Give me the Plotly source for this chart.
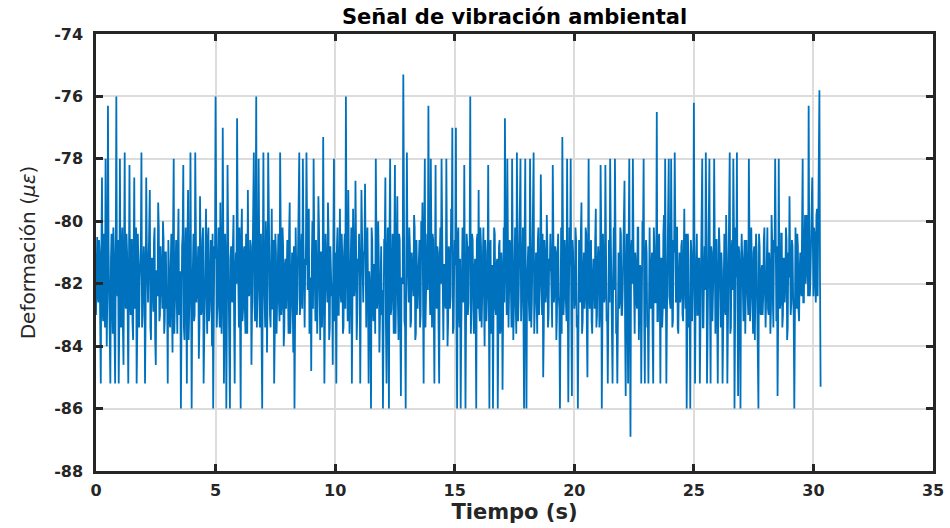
import plotly.graph_objects as go

# Sampling: 40 samples per second, 0 .. 30.3 s
sample_rate = 40.0

# Strain values (microstrain).
# "a" rows: even samples (carry the visible spikes), one row per second.
a00 = [-83.0, -80.5, -82.6, -81.0, -85.2, -78.6, -83.2, -80.6, -78.0, -84.0, -76.3, -82.8, -85.2, -80.4, -83.6, -81.0, -85.2, -76.0, -82.4, -85.2]
a01 = [-78.0, -83.4, -80.2, -84.6, -77.8, -82.8, -81.0, -85.2, -78.2, -83.0, -80.6, -83.8, -78.6, -82.2, -85.2, -80.4, -83.4, -81.2, -77.8, -83.0]
a02 = [-80.8, -85.2, -78.6, -82.6, -81.4, -79.0, -83.8, -81.2, -82.9, -80.2, -84.6, -81.6, -79.4, -83.2, -80.8, -82.4, -80.0, -83.6, -81.0, -82.8]
a03 = [-85.2, -81.6, -83.4, -80.4, -84.2, -78.0, -82.8, -80.6, -83.6, -79.6, -82.4, -86.0, -80.8, -78.2, -83.8, -80.2, -85.2, -79.0, -82.6, -77.8]
a04 = [-86.0, -80.4, -83.2, -77.8, -82.6, -80.8, -84.4, -79.2, -83.0, -80.6, -85.2, -81.4, -79.6, -83.6, -80.2, -82.8, -80.6, -84.0, -86.0, -80.8]
a05 = [-76.0, -83.4, -80.6, -82.8, -79.4, -83.6, -77.0, -85.2, -80.4, -86.0, -78.2, -83.0, -86.0, -80.8, -82.6, -79.8, -85.2, -81.0, -76.7, -83.4]
a06 = [-80.2, -86.0, -79.6, -82.8, -80.8, -83.6, -81.2, -79.0, -82.4, -80.6, -84.6, -81.0, -77.8, -83.2, -76.0, -82.0, -78.0, -83.4, -80.4, -86.0]
a07 = [-77.8, -82.6, -80.0, -84.2, -77.8, -81.8, -83.4, -79.6, -82.8, -85.2, -80.4, -83.6, -81.0, -82.6, -77.8, -83.0, -80.2, -84.0, -81.4, -82.8]
a08 = [-80.6, -83.6, -79.4, -82.4, -81.0, -84.2, -86.0, -80.2, -83.0, -79.8, -77.8, -82.6, -80.4, -78.0, -83.4, -81.2, -77.8, -82.2, -79.6, -83.2]
a09 = [-84.8, -80.0, -78.0, -82.8, -80.6, -83.6, -79.2, -82.2, -81.0, -83.4, -77.3, -85.2, -80.4, -82.6, -79.4, -83.8, -80.8, -82.4, -84.6, -78.0]
a10 = [-81.0, -85.2, -80.2, -83.0, -79.6, -82.6, -81.2, -83.4, -80.4, -76.0, -82.8, -79.0, -83.6, -80.8, -85.2, -79.6, -82.4, -78.7, -83.8, -81.2]
a11 = [-80.4, -85.2, -79.0, -82.6, -81.0, -78.8, -83.4, -80.2, -85.2, -82.0, -86.0, -80.6, -83.2, -81.4, -78.0, -82.8, -80.0, -84.2, -81.6, -83.0]
a12 = [-86.0, -80.6, -78.6, -85.2, -80.2, -86.0, -78.0, -82.8, -80.4, -83.6, -78.2, -82.4, -79.2, -83.8, -80.6, -85.6, -82.0, -75.3, -83.2, -86.0]
a13 = [-77.8, -82.6, -80.2, -83.4, -81.0, -82.2, -79.8, -83.8, -80.6, -82.8, -81.2, -83.4, -80.0, -79.4, -85.2, -78.0, -82.6, -80.4, -76.3, -83.0]
a14 = [-78.0, -83.4, -80.6, -85.2, -78.2, -82.8, -81.0, -85.2, -80.2, -78.0, -83.6, -81.4, -82.6, -78.0, -84.0, -80.8, -82.8, -79.6, -77.0, -83.4]
a15 = [-80.6, -77.0, -86.0, -80.2, -83.4, -86.0, -81.0, -82.6, -78.2, -86.0, -80.4, -83.0, -80.8, -76.0, -82.8, -80.6, -83.6, -81.2, -86.0, -80.4]
a16 = [-79.0, -83.2, -80.8, -82.6, -80.2, -84.0, -81.0, -82.6, -78.2, -86.0, -80.6, -83.4, -86.0, -80.2, -82.8, -81.4, -86.0, -80.8, -83.6, -81.0]
a17 = [-85.4, -80.2, -76.7, -82.8, -78.0, -83.4, -80.6, -82.2, -78.0, -83.8, -80.4, -82.6, -77.8, -83.2, -81.0, -78.0, -82.6, -80.2, -86.0, -78.0]
a18 = [-86.0, -80.8, -82.6, -78.0, -83.4, -80.4, -77.8, -82.8, -81.0, -83.6, -80.2, -82.4, -78.5, -83.0, -85.0, -80.6, -82.6, -79.8, -83.4, -81.2]
a19 = [-80.4, -83.2, -78.2, -82.6, -80.8, -83.8, -81.0, -82.4, -86.0, -80.2, -77.3, -83.0, -80.6, -82.6, -78.0, -85.8, -80.2, -78.0, -85.6, -81.0]
a20 = [-82.8, -80.2, -83.4, -86.0, -80.6, -82.6, -79.4, -83.2, -81.0, -82.4, -80.4, -85.0, -78.0, -82.8, -80.6, -83.6, -81.2, -82.8, -79.6, -83.0]
a21 = [-80.8, -83.4, -78.2, -86.0, -80.4, -82.6, -78.2, -83.2, -85.2, -80.6, -78.0, -82.8, -85.2, -80.2, -78.0, -83.6, -85.2, -81.0, -82.6, -80.4]
a22 = [-83.0, -81.2, -78.7, -85.6, -80.4, -85.2, -78.0, -86.9, -80.6, -78.0, -83.2, -81.0, -82.6, -80.2, -83.8, -81.4, -85.2, -80.0, -78.0, -85.2]
a23 = [-80.6, -83.4, -85.2, -80.2, -82.8, -81.0, -85.2, -80.8, -82.6, -76.5, -83.2, -80.4, -85.2, -81.2, -82.8, -79.8, -78.0, -85.2, -80.6, -78.0]
a24 = [-82.8, -78.0, -83.4, -80.6, -77.8, -82.6, -80.2, -83.6, -81.0, -82.4, -80.6, -83.2, -79.6, -82.8, -86.0, -80.4, -83.4, -86.0, -81.0, -82.6]
a25 = [-76.2, -85.2, -80.6, -83.0, -81.2, -85.2, -80.2, -78.0, -83.4, -80.8, -77.8, -85.2, -80.4, -78.0, -85.2, -81.0, -82.6, -78.0, -83.6, -80.6]
a26 = [-85.2, -80.2, -83.0, -81.0, -85.2, -80.6, -82.8, -79.8, -85.2, -80.4, -77.8, -83.4, -80.6, -78.0, -86.0, -80.2, -77.8, -85.6, -81.0, -86.0]
a27 = [-80.4, -82.8, -81.2, -83.6, -80.6, -82.4, -78.0, -83.2, -80.2, -82.6, -81.0, -83.8, -80.4, -82.6, -86.0, -80.8, -83.0, -81.4, -82.4, -80.2]
a28 = [-83.4, -80.6, -82.8, -81.0, -83.6, -79.8, -82.4, -80.6, -78.0, -83.2, -85.6, -78.0, -82.8, -80.4, -83.4, -81.2, -82.6, -80.2, -83.8, -81.0]
a29 = [-79.2, -83.0, -80.6, -82.4, -86.0, -80.2, -82.8, -80.8, -83.2, -81.0, -82.4, -78.0, -82.6, -79.8, -81.6, -80.2, -76.3, -82.4, -79.6, -78.6]
a30 = [-82.4, -80.4, -82.6, -79.6, -80.2, -75.8, -85.3]

# "b" rows: odd samples (the dense central band), one row per second.
b00 = [-81.8, -82.4, -80.6, -83.2, -81.0, -82.8, -80.4, -83.4, -81.6, -82.2, -80.8, -83.0, -81.2, -82.6, -80.2, -83.6, -81.4, -82.0, -80.6, -83.2]
b01 = [-82.2, -80.8, -83.4, -81.2, -82.6, -80.4, -83.0, -81.8, -82.4, -80.6, -83.2, -81.0, -82.8, -80.2, -83.6, -81.4, -82.0, -80.8, -83.4, -81.6]
b02 = [-81.4, -83.0, -80.8, -82.6, -80.4, -83.4, -81.2, -82.2, -80.6, -83.8, -81.6, -82.4, -80.2, -83.0, -81.8, -82.8, -80.6, -83.2, -81.0, -82.4]
b03 = [-80.6, -83.2, -81.4, -82.8, -80.2, -83.6, -81.0, -82.4, -80.8, -83.0, -81.6, -82.2, -80.4, -83.4, -81.2, -82.6, -80.6, -83.8, -81.8, -82.0]
b04 = [-82.6, -80.4, -83.0, -81.6, -82.2, -80.8, -83.4, -81.0, -82.8, -80.2, -83.6, -81.4, -82.4, -80.6, -83.2, -81.8, -82.0, -80.4, -83.0, -81.2]
b05 = [-81.0, -82.6, -80.2, -83.4, -81.8, -82.2, -80.6, -83.0, -81.4, -82.8, -80.4, -83.6, -81.2, -82.4, -80.8, -83.2, -81.6, -82.0, -80.2, -83.4]
b06 = [-82.4, -80.6, -83.2, -81.0, -82.8, -80.4, -83.6, -81.6, -82.2, -80.8, -83.0, -81.2, -82.6, -80.2, -83.4, -81.8, -82.0, -80.6, -83.8, -81.4]
b07 = [-81.6, -83.4, -80.8, -82.4, -80.2, -83.0, -81.4, -82.8, -80.6, -83.6, -81.0, -82.2, -80.4, -83.2, -81.8, -82.6, -80.8, -83.4, -81.2, -82.0]
b08 = [-82.0, -80.4, -83.6, -81.2, -82.6, -80.8, -83.2, -81.6, -82.4, -80.2, -83.0, -81.0, -82.8, -80.6, -83.4, -81.4, -82.2, -80.4, -83.6, -81.8]
b09 = [-81.2, -82.8, -80.6, -83.2, -81.6, -82.2, -80.2, -83.8, -81.0, -82.4, -80.8, -83.0, -81.4, -82.6, -80.4, -83.4, -81.8, -82.0, -80.6, -83.2]
b10 = [-82.6, -80.8, -83.0, -81.4, -82.2, -80.4, -83.6, -81.0, -82.8, -80.6, -83.2, -81.8, -82.4, -80.2, -83.4, -81.2, -82.0, -80.8, -83.0, -81.6]
b11 = [-81.8, -83.2, -80.4, -82.6, -81.0, -83.4, -80.8, -82.2, -81.6, -83.0, -80.2, -82.8, -81.4, -83.6, -80.6, -82.4, -81.2, -83.0, -80.8, -82.2]
b12 = [-82.4, -80.6, -83.4, -81.2, -82.8, -80.2, -83.0, -81.6, -82.2, -80.8, -83.6, -81.0, -82.6, -80.4, -83.2, -81.8, -82.0, -80.6, -83.4, -81.4]
b13 = [-81.0, -82.6, -80.8, -83.2, -81.4, -82.4, -80.2, -83.6, -81.8, -82.0, -80.6, -83.0, -81.2, -82.8, -80.4, -83.4, -81.6, -82.2, -80.8, -83.0]
b14 = [-82.2, -80.4, -83.0, -81.6, -82.6, -80.8, -83.4, -81.2, -82.0, -80.2, -83.8, -81.4, -82.8, -80.6, -83.2, -81.0, -82.4, -80.4, -83.6, -81.8]
b15 = [-81.4, -83.0, -80.6, -82.8, -81.2, -83.4, -80.2, -82.4, -81.8, -83.2, -80.8, -82.6, -81.0, -83.6, -80.4, -82.2, -81.6, -83.0, -80.6, -82.8]
b16 = [-82.8, -80.2, -83.4, -81.0, -82.4, -80.6, -83.2, -81.8, -82.0, -80.8, -83.6, -81.4, -82.6, -80.4, -83.0, -81.2, -82.2, -80.6, -83.4, -81.6]
b17 = [-81.2, -82.6, -80.4, -83.0, -81.8, -82.2, -80.8, -83.4, -81.0, -82.8, -80.2, -83.6, -81.4, -82.4, -80.6, -83.2, -81.6, -82.0, -80.4, -83.0]
b18 = [-82.0, -80.8, -83.2, -81.4, -82.6, -80.2, -83.6, -81.0, -82.4, -80.6, -83.0, -81.8, -82.8, -80.4, -83.4, -81.2, -82.2, -80.8, -83.0, -81.6]
b19 = [-81.6, -83.4, -80.6, -82.2, -81.0, -83.0, -80.4, -82.8, -81.8, -83.6, -80.2, -82.4, -81.2, -83.2, -80.8, -82.6, -81.4, -83.0, -80.6, -82.0]
b20 = [-82.6, -80.6, -83.0, -81.2, -82.2, -80.4, -83.6, -81.6, -82.8, -80.2, -83.4, -81.0, -82.4, -80.8, -83.2, -81.8, -82.0, -80.6, -83.4, -81.4]
b21 = [-81.4, -82.8, -80.2, -83.2, -81.6, -82.4, -80.8, -83.0, -81.0, -82.6, -80.4, -83.8, -81.8, -82.2, -80.6, -83.4, -81.2, -82.8, -80.2, -83.0]
b22 = [-82.2, -80.4, -83.4, -81.8, -82.6, -80.6, -83.2, -81.0, -82.0, -80.8, -83.6, -81.4, -82.8, -80.2, -83.0, -81.6, -82.4, -80.4, -83.2, -81.2]
b23 = [-81.0, -83.0, -80.8, -82.4, -81.4, -83.6, -80.2, -82.6, -81.8, -83.2, -80.6, -82.2, -81.2, -83.4, -80.4, -82.8, -81.6, -83.0, -80.8, -82.4]
b24 = [-82.8, -80.6, -83.2, -81.0, -82.2, -80.2, -83.4, -81.8, -82.6, -80.8, -83.0, -81.4, -82.0, -80.4, -83.6, -81.2, -82.4, -80.6, -83.2, -81.6]
b25 = [-81.6, -82.4, -80.4, -83.0, -81.2, -82.8, -80.6, -83.4, -81.8, -82.2, -80.2, -83.6, -81.0, -82.6, -80.8, -83.2, -81.4, -82.0, -80.6, -83.0]
b26 = [-82.0, -80.8, -83.4, -81.6, -82.6, -80.4, -83.0, -81.2, -82.8, -80.6, -83.6, -81.0, -82.2, -80.2, -83.2, -81.8, -82.4, -80.8, -83.0, -81.4]
b27 = [-81.2, -83.2, -80.6, -82.6, -81.8, -83.0, -80.2, -82.4, -81.4, -83.6, -80.8, -82.2, -81.0, -83.4, -80.4, -82.8, -81.6, -83.0, -80.6, -82.2]
b28 = [-82.4, -80.2, -83.0, -81.4, -82.8, -80.6, -83.4, -81.0, -82.2, -80.8, -83.2, -81.6, -82.6, -80.4, -83.0, -81.2, -82.0, -80.6, -83.4, -81.8]
b29 = [-81.4, -82.6, -80.8, -83.0, -81.0, -82.4, -80.4, -82.8, -81.6, -82.2, -80.2, -82.6, -80.8, -82.0, -79.8, -82.4, -80.6, -81.8, -79.6, -82.2]
b30 = [-80.2, -82.0, -79.8, -82.4, -80.6, -81.8]

even_samples = (a00 + a01 + a02 + a03 + a04 + a05 + a06 + a07 + a08 + a09
                + a10 + a11 + a12 + a13 + a14 + a15 + a16 + a17 + a18 + a19
                + a20 + a21 + a22 + a23 + a24 + a25 + a26 + a27 + a28 + a29 + a30)
odd_samples = (b00 + b01 + b02 + b03 + b04 + b05 + b06 + b07 + b08 + b09
               + b10 + b11 + b12 + b13 + b14 + b15 + b16 + b17 + b18 + b19
               + b20 + b21 + b22 + b23 + b24 + b25 + b26 + b27 + b28 + b29 + b30)

strain = []
for k in range(len(even_samples)):
    strain.append(even_samples[k])
    if k < len(odd_samples):
        strain.append(odd_samples[k])
time_s = [i / sample_rate for i in range(len(strain))]

x_ticks = [0, 5, 10, 15, 20, 25, 30, 35]
y_ticks = [-88, -86, -84, -82, -80, -78, -76, -74]

title_text = "Señal de vibración ambiental"
x_label = "Tiempo (s)"
y_label = "Deformación (<i>με</i>)"

WIDE = "DejaVu Sans, Verdana, sans-serif"
AX = "#262626"

fig = go.Figure()
fig.add_trace(go.Scatter(x=time_s, y=strain, mode="lines",
                         line=dict(color="#0072BD", width=1.8), showlegend=False))

axis_common = dict(
    showline=True, linewidth=2.5, linecolor=AX, mirror="ticks",
    ticks="inside", ticklen=7, tickwidth=2.5, tickcolor=AX,
    showgrid=True, gridcolor="#dcdcdc", gridwidth=1.5,
    zeroline=False, automargin=False,
    tickfont=dict(family=WIDE, size=16, color=AX, weight="bold"),
)

fig.update_layout(
    width=950, height=528,
    margin=dict(l=96, r=17, t=34, b=57),
    paper_bgcolor="white", plot_bgcolor="white",
    title=dict(text=title_text, x=0.5, xref="paper", xanchor="center",
               y=1 - 17 / 528, yref="container", yanchor="middle",
               font=dict(family=WIDE, size=21, color="#000000", weight="bold")),
    xaxis=dict(range=[0, 35], tickvals=x_ticks, ticktext=[str(v) for v in x_ticks],
               ticklabelstandoff=3,
               title=dict(text=x_label, font=dict(family=WIDE, size=21, color=AX, weight="bold"),
                          standoff=3),
               **axis_common),
    yaxis=dict(range=[-88, -74], tickvals=y_ticks, ticktext=[str(v) for v in y_ticks],
               ticklabelstandoff=7,
               title=dict(text=y_label, font=dict(family=WIDE, size=20, color=AX),
                          standoff=14),
               **axis_common),
)

fig.write_html("out.html", config={"displayModeBar": False},
               post_script="document.body.style.margin='0';")
